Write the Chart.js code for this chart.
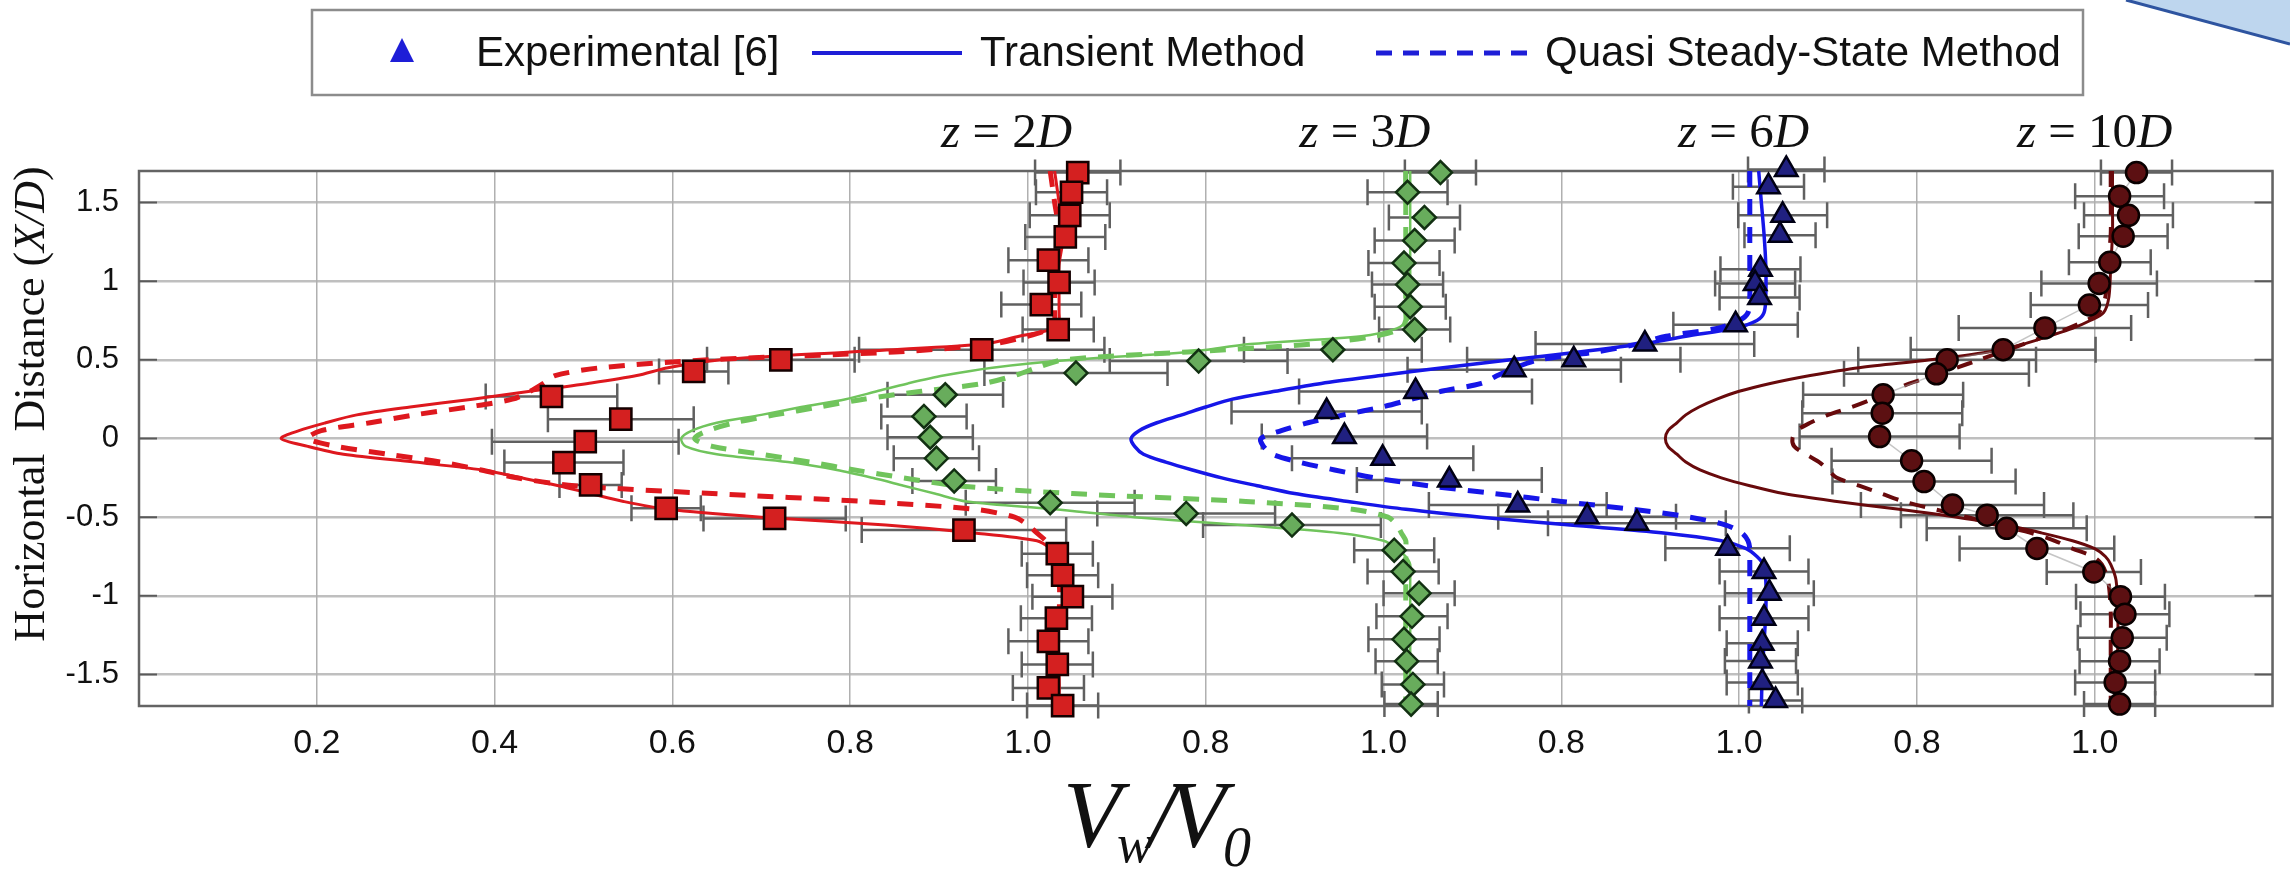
<!DOCTYPE html>
<html>
<head>
<meta charset="utf-8">
<script src="https://cdn.jsdelivr.net/npm/chart.js@4.4.0/dist/chart.umd.min.js"></script>
<style>
  html, body { margin: 0; padding: 0; background: #ffffff; }
  #wrap { width: 2290px; height: 869px; position: relative; }
</style>
</head>
<body>
<div id="wrap"><canvas id="chart" width="2290" height="869"></canvas></div>
<script>
// ---- Axis ticks (the horizontal axis carries four side-by-side profile panels) ----
const xTickValues = [0, 0.2, 0.4, 0.6, 0.8, 1.0, 1.2, 1.4, 1.6, 1.8, 2.0, 2.2, 2.4];
const xTickLabels = ['', '0.2', '0.4', '0.6', '0.8', '1.0', '0.8', '1.0', '0.8', '1.0', '0.8', '1.0', ''];
const yTickValues = [-1.5, -1, -0.5, 0, 0.5, 1, 1.5];
const yTickLabels = ['-1.5', '-1', '-0.5', '0', '0.5', '1', '1.5'];

const panelNames = ['2D', '3D', '6D', '10D'];
const legendLabels = ['Experimental [6]', 'Transient Method', 'Quasi Steady-State Method'];

// ---- Experimental points: X/D, Vw/V0 and half-width of the error bar ----
const exp2D_y = [1.69, 1.565, 1.418, 1.281, 1.133, 0.992, 0.851, 0.692, 0.564, 0.50, 0.426, 0.267, 0.123, -0.02, -0.153, -0.295, -0.444, -0.508, -0.582, -0.732, -0.869, -1.005, -1.142, -1.289, -1.436, -1.585, -1.697];
const exp2D_v = [1.056, 1.049, 1.047, 1.042, 1.023, 1.035, 1.015, 1.034, 0.948, 0.722, 0.624, 0.464, 0.542, 0.502, 0.478, 0.508, 0.593, 0.715, 0.928, 1.033, 1.039, 1.050, 1.032, 1.023, 1.033, 1.023, 1.039];
const exp2D_e = [0.048, 0.04, 0.045, 0.045, 0.045, 0.04, 0.045, 0.04, 0.138, 0.083, 0.039, 0.074, 0.082, 0.105, 0.067, 0.035, 0.039, 0.08, 0.115, 0.04, 0.04, 0.045, 0.04, 0.045, 0.04, 0.04, 0.04];

const exp3D_y = [1.69, 1.565, 1.405, 1.258, 1.115, 0.978, 0.838, 0.692, 0.564, 0.492, 0.416, 0.278, 0.14, 0.008, -0.126, -0.27, -0.408, -0.476, -0.55, -0.71, -0.846, -0.983, -1.13, -1.276, -1.415, -1.563, -1.688];
const exp3D_v = [1.064, 1.027, 1.046, 1.035, 1.023, 1.027, 1.030, 1.035, 0.943, 0.792, 0.654, 0.507, 0.483, 0.490, 0.497, 0.517, 0.625, 0.778, 0.897, 1.012, 1.022, 1.040, 1.032, 1.023, 1.026, 1.033, 1.031];
const exp3D_e = [0.04, 0.045, 0.04, 0.045, 0.04, 0.04, 0.04, 0.04, 0.1, 0.1, 0.103, 0.065, 0.048, 0.048, 0.048, 0.047, 0.095, 0.1, 0.1, 0.045, 0.04, 0.04, 0.04, 0.04, 0.035, 0.035, 0.03];

const exp6D_y = [1.71, 1.60, 1.418, 1.292, 1.076, 0.985, 0.896, 0.723, 0.60, 0.50, 0.437, 0.299, 0.171, 0.012, -0.126, -0.264, -0.423, -0.497, -0.538, -0.697, -0.846, -0.983, -1.143, -1.302, -1.414, -1.55, -1.665];
const exp6D_v = [1.053, 1.033, 1.049, 1.046, 1.024, 1.018, 1.023, 0.996, 0.894, 0.814, 0.747, 0.636, 0.536, 0.556, 0.599, 0.674, 0.751, 0.829, 0.885, 0.987, 1.028, 1.034, 1.028, 1.026, 1.024, 1.026, 1.041];
const exp6D_e = [0.043, 0.04, 0.05, 0.04, 0.045, 0.045, 0.045, 0.07, 0.123, 0.12, 0.12, 0.131, 0.107, 0.093, 0.102, 0.104, 0.1, 0.1, 0.1, 0.07, 0.05, 0.05, 0.05, 0.04, 0.04, 0.04, 0.03];

const exp10D_y = [1.69, 1.54, 1.418, 1.285, 1.12, 0.985, 0.848, 0.703, 0.564, 0.50, 0.411, 0.278, 0.161, 0.012, -0.141, -0.274, -0.423, -0.487, -0.571, -0.699, -0.848, -1.005, -1.117, -1.267, -1.415, -1.55, -1.688];
const exp10D_v = [1.047, 1.028, 1.038, 1.032, 1.017, 1.005, 0.994, 0.944, 0.897, 0.834, 0.822, 0.762, 0.761, 0.758, 0.794, 0.808, 0.840, 0.879, 0.901, 0.935, 0.999, 1.029, 1.034, 1.031, 1.028, 1.023, 1.028];
const exp10D_e = [0.04, 0.05, 0.05, 0.05, 0.046, 0.065, 0.066, 0.097, 0.104, 0.1, 0.104, 0.09, 0.09, 0.09, 0.09, 0.103, 0.103, 0.097, 0.09, 0.087, 0.053, 0.05, 0.05, 0.05, 0.045, 0.045, 0.04];

// ---- Computed velocity profiles, sampled at common X/D stations ----
const profileY = [1.7, 1.5, 1.3, 1.1, 0.9, 0.8, 0.75, 0.7, 0.65, 0.6, 0.55, 0.5, 0.45, 0.4, 0.35, 0.3, 0.25, 0.2, 0.15, 0.1, 0.05, 0,
                  -0.05, -0.1, -0.15, -0.2, -0.25, -0.3, -0.35, -0.4, -0.45, -0.5, -0.55, -0.6, -0.65, -0.7, -0.75, -0.8, -0.9, -1.1, -1.3, -1.5, -1.7];

const transient2D = [1.03, 1.035, 1.04, 1.035, 1.035, 1.035, 1.035, 1.03, 0.99, 0.95, 0.80, 0.655, 0.595, 0.56, 0.505, 0.44, 0.375, 0.305, 0.245, 0.21, 0.18, 0.16,
                     0.19, 0.23, 0.31, 0.386, 0.43, 0.472, 0.508, 0.545, 0.595, 0.70, 0.84, 0.94, 1.01, 1.025, 1.03, 1.035, 1.04, 1.04, 1.03, 1.035, 1.035];
const quasi2D     = [1.025, 1.03, 1.035, 1.03, 1.03, 1.03, 1.03, 1.025, 1.0, 0.96, 0.85, 0.64, 0.52, 0.468, 0.455, 0.44, 0.42, 0.37, 0.31, 0.26, 0.205, 0.19,
                     0.222, 0.28, 0.34, 0.385, 0.425, 0.49, 0.645, 0.816, 0.94, 0.985, 1.0, 1.01, 1.02, 1.025, 1.03, 1.03, 1.035, 1.035, 1.03, 1.03, 1.03];

const transient3D = [1.03, 1.03, 1.03, 1.03, 1.03, 1.03, 1.027, 1.015, 0.975, 0.85, 0.78, 0.65, 0.56, 0.505, 0.465, 0.43, 0.395, 0.345, 0.30, 0.25, 0.222, 0.21,
                     0.215, 0.25, 0.33, 0.385, 0.425, 0.46, 0.495, 0.531, 0.63, 0.72, 0.84, 0.95, 1.0, 1.015, 1.025, 1.03, 1.03, 1.03, 1.03, 1.03, 1.03];
const quasi3D     = [1.025, 1.025, 1.025, 1.025, 1.025, 1.025, 1.025, 1.02, 0.99, 0.92, 0.78, 0.64, 0.61, 0.585, 0.55, 0.48, 0.415, 0.365, 0.315, 0.27, 0.24, 0.225,
                     0.245, 0.30, 0.355, 0.405, 0.46, 0.52, 0.65, 0.845, 0.965, 1.005, 1.015, 1.02, 1.025, 1.025, 1.025, 1.025, 1.025, 1.025, 1.025, 1.025, 1.025];

const transient6D = [1.022, 1.025, 1.028, 1.03, 1.03, 1.028, 1.02, 0.995, 0.94, 0.89, 0.82, 0.743, 0.667, 0.597, 0.53, 0.478, 0.43, 0.40, 0.373, 0.345, 0.325, 0.316,
                     0.32, 0.33, 0.355, 0.385, 0.418, 0.458, 0.50, 0.56, 0.625, 0.71, 0.81, 0.915, 0.98, 1.008, 1.02, 1.027, 1.03, 1.03, 1.028, 1.026, 1.025];
const quasi6D     = [1.012, 1.012, 1.012, 1.012, 1.012, 1.01, 1.0, 0.975, 0.918, 0.885, 0.84, 0.775, 0.748, 0.728, 0.71, 0.665, 0.632, 0.598, 0.555, 0.515, 0.485, 0.462,
                     0.465, 0.475, 0.505, 0.545, 0.59, 0.65, 0.725, 0.80, 0.88, 0.945, 0.985, 1.003, 1.01, 1.012, 1.012, 1.012, 1.012, 1.012, 1.012, 1.012, 1.012];

const transient10D = [1.02, 1.02, 1.02, 1.018, 1.016, 1.01, 0.995, 0.975, 0.948, 0.92, 0.88, 0.815, 0.735, 0.68, 0.635, 0.60, 0.575, 0.555, 0.54, 0.53, 0.52, 0.517,
                      0.52, 0.53, 0.54, 0.556, 0.58, 0.612, 0.65, 0.71, 0.78, 0.845, 0.90, 0.94, 0.975, 1.0, 1.012, 1.018, 1.024, 1.026, 1.026, 1.025, 1.025];
const quasi10D     = [1.018, 1.018, 1.018, 1.015, 1.012, 1.005, 0.99, 0.97, 0.945, 0.92, 0.895, 0.87, 0.845, 0.82, 0.792, 0.77, 0.75, 0.727, 0.70, 0.68, 0.665, 0.66,
                      0.662, 0.675, 0.69, 0.70, 0.71, 0.735, 0.76, 0.785, 0.82, 0.857, 0.89, 0.928, 0.955, 0.975, 0.998, 1.008, 1.015, 1.018, 1.018, 1.018, 1.018];

// Each panel is drawn shifted along the shared horizontal axis
const panelShift = [0, 0.4, 0.8, 1.2];
const toPoints = (vals, ys, k) => vals.map((v, i) => ({ x: v + panelShift[k], y: ys[i] }));

const COLORS = {
  red:    { line: 'rgb(222,24,30)',  fill: 'rgb(212,32,32)',  edge: 'rgb(20,0,0)' },
  green:  { line: 'rgb(112,196,92)', fill: 'rgb(104,172,92)', edge: 'rgb(18,48,18)' },
  blue:   { line: 'rgb(22,22,232)',  fill: 'rgb(32,32,128)',  edge: 'rgb(0,0,20)' },
  maroon: { line: 'rgb(104,10,12)',  fill: 'rgb(92,16,18)',   edge: 'rgb(10,0,0)' }
};

function curve(vals, k, color, dashed, width) {
  return {
    type: 'scatter', data: toPoints(vals, profileY, k), showLine: true, pointRadius: 0, pointHoverRadius: 0,
    borderColor: color, backgroundColor: color, borderWidth: width, borderDash: dashed ? [16, 12] : [],
    tension: 0.3, order: 3
  };
}
function markers(vals, ys, errs, k, c, style, radius, joinLine) {
  return {
    type: 'scatter', data: toPoints(vals, ys, k), errorX: errs, pointStyle: style, pointRadius: radius, pointHoverRadius: radius,
    backgroundColor: c.fill, borderColor: c.edge, pointBorderWidth: 2.5, pointBackgroundColor: c.fill, pointBorderColor: c.edge,
    showLine: !!joinLine, borderWidth: 1.5, clip: false, order: 1,
    ...(joinLine ? { borderColor: 'rgba(150,150,150,0.55)' } : {})
  };
}

const datasets = [
  curve(transient2D, 0, COLORS.red.line, false, 3),
  curve(quasi2D, 0, COLORS.red.line, true, 5),
  curve(transient3D, 1, COLORS.green.line, false, 2.5),
  curve(quasi3D, 1, COLORS.green.line, true, 5),
  curve(transient6D, 2, COLORS.blue.line, false, 3.5),
  curve(quasi6D, 2, COLORS.blue.line, true, 5),
  curve(transient10D, 3, COLORS.maroon.line, false, 3),
  curve(quasi10D, 3, COLORS.maroon.line, true, 4),
  markers(exp2D_v, exp2D_y, exp2D_e, 0, COLORS.red, 'rect', 15),
  markers(exp3D_v, exp3D_y, exp3D_e, 1, COLORS.green, 'rectRot', 11.5),
  markers(exp6D_v, exp6D_y, exp6D_e, 2, COLORS.blue, 'triangle', 13),
  markers(exp10D_v, exp10D_y, exp10D_e, 3, COLORS.maroon, 'circle', 10.5, true)
];

// Horizontal error bars with end caps, placed through the chart scales
const errorBarPlugin = {
  id: 'errorBars',
  beforeDatasetsDraw(chart) {
    const { ctx, scales: { x, y } } = chart;
    ctx.save();
    ctx.strokeStyle = 'rgb(96,96,96)';
    ctx.lineWidth = 2.5;
    chart.data.datasets.forEach(ds => {
      if (!ds.errorX) return;
      ds.data.forEach((p, i) => {
        const e = ds.errorX[i];
        const x0 = x.getPixelForValue(p.x - e), x1 = x.getPixelForValue(p.x + e), py = y.getPixelForValue(p.y);
        ctx.beginPath();
        ctx.moveTo(x0, py); ctx.lineTo(x1, py);
        ctx.moveTo(x0, py - 13); ctx.lineTo(x0, py + 13);
        ctx.moveTo(x1, py - 13); ctx.lineTo(x1, py + 13);
        ctx.stroke();
      });
    });
    ctx.restore();
  }
};

// Plot frame and short inward tick marks
const framePlugin = {
  id: 'frame',
  beforeDatasetsDraw(chart) {
    const { ctx, chartArea: a, scales: { y } } = chart;
    ctx.save();
    ctx.strokeStyle = 'rgb(100,100,100)';
    ctx.lineWidth = 2.5;
    ctx.strokeRect(a.left, a.top, a.right - a.left, a.bottom - a.top);
    ctx.lineWidth = 2;
    ctx.strokeStyle = 'rgb(90,90,90)';
    yTickValues.forEach(v => {
      const py = y.getPixelForValue(v);
      ctx.beginPath();
      ctx.moveTo(a.left, py); ctx.lineTo(a.left + 18, py);
      ctx.moveTo(a.right, py); ctx.lineTo(a.right - 18, py);
      ctx.stroke();
    });
    ctx.restore();
  }
};

// Draws a run of text pieces (regular / italic) starting at x
function drawRuns(ctx, runs, x, y) {
  let cx = x;
  runs.forEach(r => { ctx.font = r.font; ctx.fillText(r.text, cx, y + (r.dy || 0)); cx += ctx.measureText(r.text).width + (r.gap || 0); });
}
function runsWidth(ctx, runs) {
  let w = 0;
  runs.forEach(r => { ctx.font = r.font; w += ctx.measureText(r.text).width + (r.gap || 0); });
  return w;
}

const SERIF = '"Liberation Serif", "Times New Roman", serif';
const SANS = '"Liberation Sans", Arial, sans-serif';

const annotationPlugin = {
  id: 'annotations',
  beforeDraw(chart) {
    const { ctx } = chart;
    // corner ribbon in the page background
    ctx.save();
    ctx.fillStyle = 'rgb(190,214,238)';
    ctx.beginPath();
    ctx.moveTo(2126, 0); ctx.lineTo(2290, 0); ctx.lineTo(2290, 44); ctx.closePath();
    ctx.fill();
    ctx.strokeStyle = 'rgb(46,84,160)';
    ctx.lineWidth = 3;
    ctx.beginPath(); ctx.moveTo(2126, 0); ctx.lineTo(2290, 44); ctx.stroke();
    ctx.restore();
  },
  afterDraw(chart) {
    const { ctx, scales: { x } } = chart;
    ctx.save();
    ctx.fillStyle = '#111';
    ctx.textBaseline = 'alphabetic';

    // panel titles
    const titleAt = [0.976, 1.379, 1.805, 2.2];
    panelNames.forEach((name, k) => {
      const runs = [
        { text: 'z', font: 'italic 49px ' + SERIF },
        { text: ' = ' + name.slice(0, -1), font: '49px ' + SERIF },
        { text: 'D', font: 'italic 49px ' + SERIF }
      ];
      const w = runsWidth(ctx, runs);
      drawRuns(ctx, runs, x.getPixelForValue(titleAt[k]) - w / 2, 147);
    });

    // horizontal axis title  Vw/V0
    const x0 = 1063;
    ctx.font = 'italic 95px ' + SERIF; ctx.fillText('V', x0, 847);
    ctx.font = 'italic 54px ' + SERIF; ctx.fillText('w', x0 + 54, 862);
    ctx.font = 'italic 95px ' + SERIF; ctx.fillText('/', x0 + 86, 847);
    ctx.font = 'italic 95px ' + SERIF; ctx.fillText('V', x0 + 105, 847);
    ctx.font = 'italic 56px ' + SERIF; ctx.fillText('0', x0 + 160, 866);

    // vertical axis title
    ctx.translate(32, 404);
    ctx.rotate(-Math.PI / 2);
    ctx.textBaseline = 'middle';
    const yRuns = [
      { text: 'Horizontal  Distance (', font: '44px ' + SERIF },
      { text: 'X/D', font: 'italic 44px ' + SERIF },
      { text: ')', font: '44px ' + SERIF }
    ];
    drawRuns(ctx, yRuns, -runsWidth(ctx, yRuns) / 2, 0);
    ctx.restore();

    // legend box
    ctx.save();
    ctx.fillStyle = '#fff';
    ctx.fillRect(312, 10, 1771, 85);
    ctx.strokeStyle = 'rgb(140,140,140)';
    ctx.lineWidth = 2.5;
    ctx.strokeRect(312, 10, 1771, 85);
    const ly = 53;
    const blue = 'rgb(30,30,215)';
    // marker sample
    ctx.fillStyle = blue;
    ctx.beginPath();
    ctx.moveTo(402, ly - 15); ctx.lineTo(414, ly + 9); ctx.lineTo(390, ly + 9); ctx.closePath();
    ctx.fill();
    // solid line sample
    ctx.strokeStyle = blue; ctx.lineWidth = 4;
    ctx.beginPath(); ctx.moveTo(812, ly); ctx.lineTo(962, ly); ctx.stroke();
    // dashed line sample
    ctx.lineWidth = 5; ctx.setLineDash([16, 11]);
    ctx.beginPath(); ctx.moveTo(1376, ly); ctx.lineTo(1530, ly); ctx.stroke();
    ctx.setLineDash([]);
    ctx.fillStyle = '#111';
    ctx.font = '42px ' + SANS;
    ctx.textBaseline = 'middle';
    ctx.fillText(legendLabels[0], 476, ly + 1);
    ctx.fillText(legendLabels[1], 980, ly + 1);
    ctx.fillText(legendLabels[2], 1545, ly + 1);
    ctx.restore();
  }
};

new Chart(document.getElementById('chart'), {
  type: 'scatter',
  data: { datasets },
  options: {
    responsive: false,
    animation: false,
    devicePixelRatio: 1,
    layout: { padding: { top: 171, right: 9, left: 0, bottom: 0 } },
    plugins: { legend: { display: false }, title: { display: false }, tooltip: { enabled: false } },
    scales: {
      x: {
        type: 'linear', min: 0, max: 2.4,
        afterBuildTicks: s => { s.ticks = xTickValues.map(v => ({ value: v })); },
        afterFit: s => { s.height = 163; },
        ticks: {
          autoSkip: false, maxRotation: 0, padding: 17, color: '#111',
          font: { family: SANS, size: 34 },
          callback: (v, i) => xTickLabels[i]
        },
        grid: { color: 'rgba(150,150,150,0.75)', lineWidth: 1.5, drawTicks: false },
        border: { display: false }
      },
      y: {
        type: 'linear', min: -1.7, max: 1.7,
        afterBuildTicks: s => { s.ticks = yTickValues.map(v => ({ value: v })); },
        afterFit: s => { s.width = 139; },
        ticks: {
          autoSkip: false, padding: 20, color: '#111',
          font: { family: SANS, size: 31 },
          callback: (v, i) => yTickLabels[i]
        },
        grid: { color: 'rgba(175,175,175,0.8)', lineWidth: 2.5, drawTicks: false },
        border: { display: false }
      }
    }
  },
  plugins: [errorBarPlugin, framePlugin, annotationPlugin]
});
</script>
</body>
</html>
